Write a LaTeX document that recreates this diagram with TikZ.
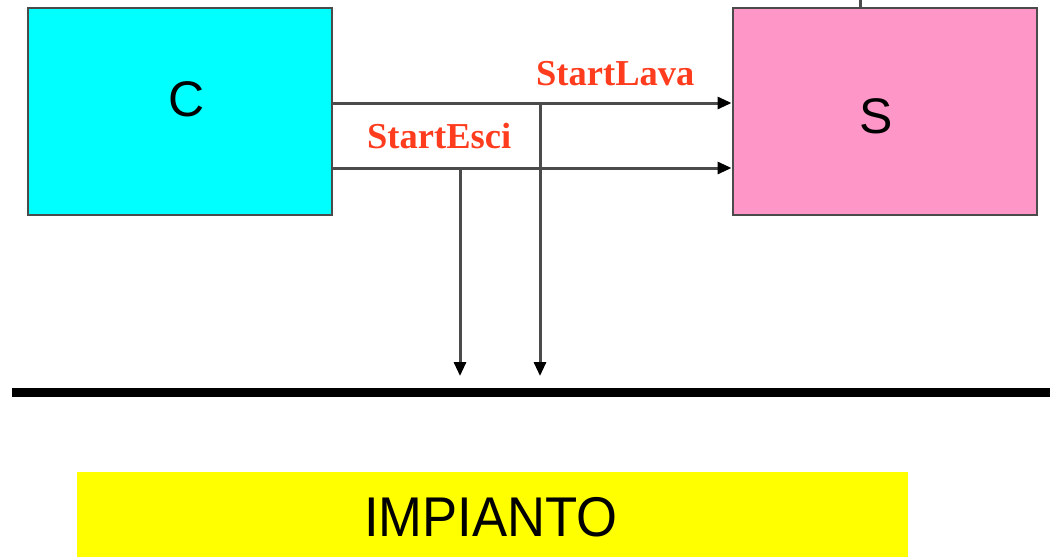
\documentclass[tikz,border=0pt]{standalone}
\usepackage{fontspec}
\setmainfont{Liberation Serif}
\newfontfamily\arialf{Liberation Sans}
\usetikzlibrary{arrows.meta}
\definecolor{cbox}{RGB}{0,255,255}
\definecolor{sbox}{RGB}{255,150,200}
\definecolor{ibox}{RGB}{255,255,0}
\definecolor{lbl}{RGB}{255,60,30}
\definecolor{wire}{RGB}{75,75,75}
\begin{document}
\begin{tikzpicture}[x=1pt,y=-1pt,
  blockbox/.style={draw=wire, line width=2pt, minimum width=304pt, minimum height=207pt, inner sep=0pt},
  bigtxt/.style={font=\arialf\fontsize{50}{54}\selectfont, inner sep=0pt},
  sig/.style={font=\bfseries\fontsize{36.5}{40}\selectfont, text=lbl, inner sep=0pt},
  wirearrow/.style={draw=wire, line width=3pt, -{Triangle[length=14pt,width=12pt,color=black]}},
  plain/.style={draw=wire, line width=3pt}]
\useasboundingbox (0,0) rectangle (1050,557);
\fill[white] (0,0) rectangle (1050,557);
% blocks
\node[blockbox, fill=cbox] (C) at (180,111.5) {};
\node[blockbox, fill=sbox] (S) at (884.5,111.5) {};
\node[bigtxt] (Ct) at (187,99) {C};
\node[bigtxt] (St) at (876,116) {S};
% impianto
\node[fill=ibox, minimum width=831pt, minimum height=86pt, inner sep=0pt] (I) at (492.5,515) {};
\node[font=\arialf\fontsize{56}{60}\selectfont, xscale=0.94, inner sep=0pt] (It) at (491,517) {IMPIANTO};
% bus
\coordinate (busL) at (12,392);
\coordinate (busR) at (1050,392);
\draw[line width=9pt, black] (busL) -- (busR);
% signals
\coordinate (cL) at (C.east |- 0,103);
\coordinate (sL) at (S.west |- 0,103);
\coordinate (cE) at (C.east |- 0,168);
\coordinate (sE) at (S.west |- 0,168);
\draw[wirearrow] (cL) -- (sL);
\draw[wirearrow] (cE) -- (sE);
\coordinate (jL) at (540,103);
\coordinate (jE) at (460,168);
\coordinate (bL) at (540,376);
\coordinate (bE) at (460,376);
\draw[wirearrow] (jL) -- (bL);
\draw[wirearrow] (jE) -- (bE);
% top wire on S
\coordinate (stop) at (860,0);
\draw[plain] (S.north -| stop) -- (stop);
% labels
\node[sig, anchor=base west] (lava) at (536,85) {StartLava};
\node[sig, anchor=base west] (esci) at (367,148) {StartEsci};
\end{tikzpicture}
\end{document}
